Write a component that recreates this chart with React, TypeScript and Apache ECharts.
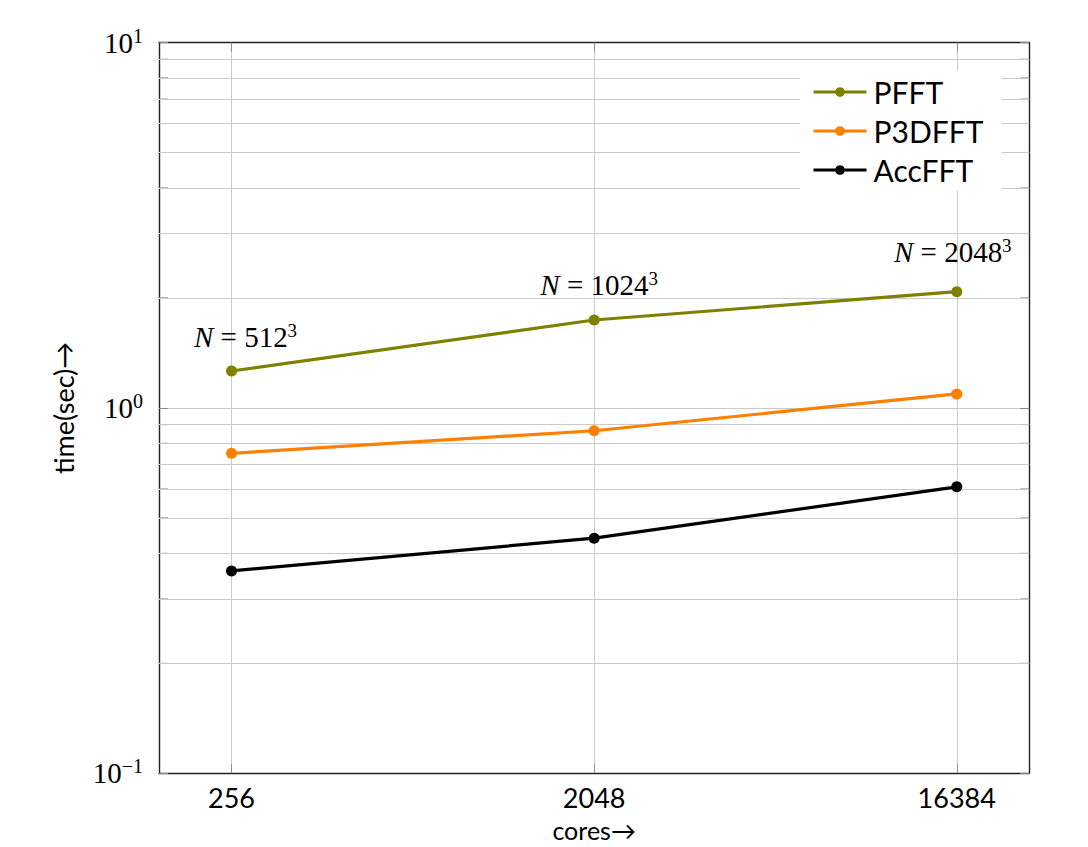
import React, { useEffect, useRef } from "react";
import * as echarts from "echarts";

const cores = [256, 2048, 16384];
const pfft = [1.262, 1.74, 2.08];
const p3dfft = [0.751, 0.866, 1.092];
const accfft = [0.358, 0.44, 0.608];
const problemSizes = [512, 1024, 2048];
const seriesNames = ["PFFT", "P3DFFT", "AccFFT"];
const yMinorValues = [0.2, 0.3, 0.4, 0.5, 0.6, 0.7, 0.8, 0.9, 2, 3, 4, 5, 6, 7, 8, 9];

const SANS = "Lato, 'Noto Sans', sans-serif";
const SERIF = "'Liberation Serif', 'DejaVu Serif', serif";
const GRID_COLOR = "#cacaca";
const TICK_COLOR = "#8a8a8a";

const xs = cores.map((c) => Math.log2(c));
const labelOffsets = [
  [14, -2],
  [5, -4],
  [-4, -8],
];

export default function App() {
  const ref = useRef<HTMLDivElement>(null);
  useEffect(() => {
    const chart = echarts.init(ref.current!, null, { renderer: "svg" });
    const mk = (vals: number[]) => vals.map((v, i) => [xs[i], v]);
    const option: any = {
      animation: false,
      backgroundColor: "#fff",
      grid: { left: 159, top: 42.5, right: 58.7, bottom: 73.7, containLabel: false, outerBoundsMode: "none" },
      legend: {
        data: seriesNames,
        orient: "vertical",
        left: 800,
        top: 71,
        padding: [6, 18, 6, 12],
        itemGap: 9,
        itemWidth: 53,
        itemHeight: 12,
        backgroundColor: "#fff",
        z: 10,
        lineStyle: { width: 3 },
        textStyle: { fontFamily: SANS, fontSize: 30, color: "#000", padding: [0, 0, 0, 2] },
      },
      xAxis: [
        {
          type: "value",
          min: 7.4,
          max: 14.6,
          position: "bottom",
          name: "cores→",
          nameLocation: "middle",
          nameGap: 44,
          nameTextStyle: { fontFamily: SANS, fontSize: 25, color: "#000" },
          axisLine: { show: true, onZero: false, lineStyle: { color: "#222", width: 1.4 } },
          axisTick: { show: true, inside: true, length: 9, customValues: xs, lineStyle: { color: TICK_COLOR } },
          axisLabel: {
            customValues: xs,
            margin: 11,
            fontFamily: SANS,
            fontSize: 27,
            color: "#000",
            formatter: (v: number) => {
              const i = xs.findIndex((x) => Math.abs(x - v) < 1e-6);
              return i >= 0 ? String(cores[i]) : "";
            },
          },
          splitLine: { show: true, lineStyle: { color: GRID_COLOR, width: 1 } },
        },
        {
          type: "value",
          min: 7.4,
          max: 14.6,
          position: "top",
          axisLine: { show: true, onZero: false, lineStyle: { color: "#222", width: 1.4 } },
          axisTick: { show: true, inside: true, length: 9, customValues: xs, lineStyle: { color: TICK_COLOR } },
          axisLabel: { show: false, customValues: xs },
          splitLine: { show: false },
        },
      ],
      yAxis: [
        {
          type: "log",
          logBase: 10,
          min: 0.1,
          max: 10,
          interval: 1,
          position: "left",
          name: "time(sec)→",
          nameLocation: "middle",
          nameGap: 82,
          nameTextStyle: { fontFamily: SANS, fontSize: 27, color: "#000" },
          axisLine: { show: true, onZero: false, lineStyle: { color: "#222", width: 1.4 } },
          axisTick: { show: true, inside: true, length: 9, lineStyle: { color: TICK_COLOR } },
          axisLabel: {
            margin: 16,
            fontFamily: SERIF,
            fontSize: 29,
            color: "#000",
            formatter: (v: number) => {
              const e = Math.round(Math.log10(v));
              return "{b|10}{s|" + (e < 0 ? "−" + -e : String(e)) + "}";
            },
            rich: {
              b: { fontFamily: SERIF, fontSize: 29, color: "#000", lineHeight: 34 },
              s: { fontFamily: SERIF, fontSize: 20, color: "#000", lineHeight: 34, verticalAlign: "top" },
            },
          },
          splitLine: { show: true, lineStyle: { color: GRID_COLOR, width: 1 } },
        },
        {
          type: "log",
          logBase: 10,
          min: 0.1,
          max: 10,
          interval: 1,
          position: "right",
          axisLine: { show: true, onZero: false, lineStyle: { color: "#222", width: 1.4 } },
          axisTick: { show: true, inside: true, length: 9, lineStyle: { color: TICK_COLOR } },
          axisLabel: { show: false },
          splitLine: { show: false },
        },
      ],
      series: [
        {
          type: "line",
          name: "minor-grid",
          data: [],
          silent: true,
          z: 1,
          markLine: {
            silent: true,
            symbol: "none",
            label: { show: false },
            lineStyle: { color: GRID_COLOR, width: 1, type: "solid" },
            data: yMinorValues.map((v) => ({ yAxis: v })),
          },
        },
        {
          type: "custom",
          name: "minor-ticks",
          silent: true,
          z: 3,
          data: yMinorValues.map((v) => [xs[0], v]),
          encode: { x: 0, y: 1 },
          renderItem: (params: any, api: any) => {
            const y = api.coord([api.value(0), api.value(1)])[1];
            const cs = params.coordSys;
            return {
              type: "group",
              children: [
                { type: "line", shape: { x1: cs.x, y1: y, x2: cs.x + 9, y2: y }, style: { stroke: TICK_COLOR, lineWidth: 1 } },
                { type: "line", shape: { x1: cs.x + cs.width - 9, y1: y, x2: cs.x + cs.width, y2: y }, style: { stroke: TICK_COLOR, lineWidth: 1 } },
              ],
            };
          },
        },
        {
          type: "line",
          name: "PFFT",
          z: 5,
          data: mk(pfft).map((p, i) => ({
            value: p,
            label: { offset: labelOffsets[i] },
          })),
          symbol: "circle",
          symbolSize: 11,
          itemStyle: { color: "#808000" },
          lineStyle: { color: "#808000", width: 3.2 },
          label: {
            show: true,
            position: "top",
            distance: 10,
            formatter: (p: any) => "{i|N}{t| = " + problemSizes[p.dataIndex] + "}{s|3}",
            rich: {
              i: { fontFamily: SERIF, fontStyle: "italic", fontSize: 29, color: "#000", lineHeight: 32 },
              t: { fontFamily: SERIF, fontSize: 29, color: "#000", lineHeight: 32 },
              s: { fontFamily: SERIF, fontSize: 19, color: "#000", lineHeight: 32, verticalAlign: "top" },
            },
          },
        },
        {
          type: "line",
          name: "P3DFFT",
          z: 5,
          data: mk(p3dfft),
          symbol: "circle",
          symbolSize: 11,
          itemStyle: { color: "#ff7f00" },
          lineStyle: { color: "#ff7f00", width: 3.2 },
        },
        {
          type: "line",
          name: "AccFFT",
          z: 5,
          data: mk(accfft),
          symbol: "circle",
          symbolSize: 11,
          itemStyle: { color: "#000" },
          lineStyle: { color: "#000", width: 3.2 },
        },
      ],
    };
    chart.setOption(option);
    return () => chart.dispose();
  }, []);
  return <div ref={ref} style={{ position: "fixed", left: 0, top: 0, width: 1088, height: 847, background: "#fff" }} />;
}
